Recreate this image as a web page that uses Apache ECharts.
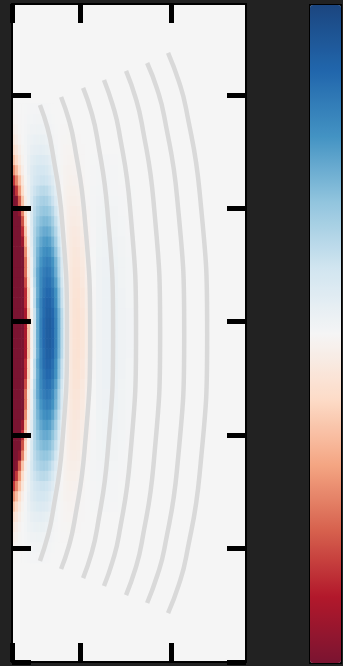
<!DOCTYPE html>
<html>
<head>
<meta charset="utf-8">
<script src="https://cdn.jsdelivr.net/npm/echarts@6/dist/echarts.min.js"></script>
<style>
  html, body { margin: 0; padding: 0; background: #222222; }
  #chart { width: 343px; height: 666px; }
</style>
</head>
<body>
<div id="chart"></div>
<script>
// Axis extents and tick positions
const xRange = [0, 10.3];
const yRange = [0, 5.8];
const xTicks = [0, 3, 7];
const yTicks = [0, 1, 2, 3, 4, 5];
const midplaneY = 2.9;

// Field grid: column edges along x, row centres as distance from the midplane
const columnEdges = [0, 0.13, 0.26, 0.4, 0.53, 0.66, 0.8, 0.93, 1.06, 1.2, 1.33, 1.46, 1.6, 1.73, 1.86,
  2.0, 2.13, 2.26, 2.4, 2.53, 2.66, 2.84, 3.0, 3.2, 3.44, 3.7, 3.96, 4.3, 4.66, 5.0, 5.4];
const rowOffsets = [0, 0.09, 0.18, 0.27, 0.36, 0.45, 0.54, 0.63, 0.72, 0.81, 0.9, 0.99,
  1.08, 1.17, 1.26, 1.35, 1.44, 1.53, 1.62, 1.71, 1.8, 1.89, 1.98];

// Field values per row, from the midplane outwards (same above and below)
const band00 = [-1, -1, -1, -1, -0.83, -0.31, -0.03, 0.23, 0.51, 0.68, 0.785, 0.845, 0.855, 0.81, 0.675, 0.485, 0.275, 0.095, -0.02, -0.1, -0.14, -0.15, -0.125, -0.07, -0.01, 0.033, 0.052, 0.056, 0.036, 0.02];
const band01 = [-1, -1, -1, -1, -0.83, -0.31, -0.03, 0.23, 0.51, 0.68, 0.785, 0.845, 0.855, 0.81, 0.675, 0.485, 0.275, 0.095, -0.02, -0.1, -0.14, -0.15, -0.125, -0.07, -0.01, 0.033, 0.052, 0.056, 0.036, 0.02];
const band02 = [-1, -1, -1, -1, -0.83, -0.31, -0.03, 0.225, 0.5, 0.665, 0.77, 0.83, 0.84, 0.795, 0.66, 0.475, 0.27, 0.093, -0.02, -0.098, -0.137, -0.147, -0.122, -0.069, -0.01, 0.032, 0.051, 0.055, 0.035, 0.02];
const band03 = [-1, -1, -1, -1, -0.75, -0.25, 0, 0.27, 0.53, 0.67, 0.77, 0.816, 0.816, 0.758, 0.624, 0.432, 0.23, 0.067, -0.038, -0.1, -0.137, -0.142, -0.115, -0.062, -0.005, 0.036, 0.051, 0.054, 0.034, 0.018];
const band04 = [-1, -1, -1, -1, -0.75, -0.25, 0, 0.26, 0.51, 0.65, 0.744, 0.79, 0.79, 0.735, 0.605, 0.42, 0.223, 0.065, -0.037, -0.098, -0.133, -0.138, -0.112, -0.06, -0.005, 0.034, 0.049, 0.052, 0.033, 0.018];
const band05 = [-1, -1, -1, -1, -0.66, -0.2, 0.036, 0.294, 0.516, 0.64, 0.72, 0.76, 0.752, 0.685, 0.552, 0.37, 0.187, 0.045, -0.047, -0.1, -0.129, -0.129, -0.102, -0.052, 0, 0.036, 0.048, 0.049, 0.03, 0.016];
const band06 = [-1, -1, -1, -1, -0.56, -0.14, 0.068, 0.323, 0.519, 0.629, 0.697, 0.731, 0.714, 0.638, 0.5, 0.323, 0.153, 0.026, -0.055, -0.102, -0.125, -0.121, -0.094, -0.045, 0.003, 0.035, 0.047, 0.046, 0.028, 0.014];
const band07 = [-1, -1, -1, -1, -0.56, -0.14, 0.064, 0.304, 0.488, 0.592, 0.656, 0.688, 0.672, 0.6, 0.472, 0.304, 0.144, 0.024, -0.052, -0.096, -0.118, -0.114, -0.088, -0.042, 0.002, 0.033, 0.044, 0.043, 0.026, 0.014];
const band08 = [-1, -1, -1, -1, -0.47, -0.1, 0.096, 0.315, 0.47, 0.559, 0.614, 0.636, 0.614, 0.537, 0.411, 0.255, 0.111, 0.011, -0.058, -0.093, -0.111, -0.104, -0.078, -0.034, 0.005, 0.031, 0.041, 0.038, 0.024, 0.012];
const band09 = [-1, -1, -1, -0.874, -0.36, -0.057, 0.12, 0.315, 0.442, 0.516, 0.563, 0.576, 0.549, 0.469, 0.348, 0.208, 0.08, 0, -0.06, -0.087, -0.1, -0.092, -0.067, -0.027, 0.007, 0.029, 0.038, 0.034, 0.021, 0.01];
const band10 = [-1, -1, -1, -0.747, -0.279, -0.027, 0.138, 0.306, 0.408, 0.471, 0.507, 0.513, 0.486, 0.405, 0.291, 0.165, 0.057, -0.012, -0.059, -0.081, -0.09, -0.081, -0.057, -0.021, 0.008, 0.026, 0.035, 0.03, 0.018, 0.008];
const band11 = [-1, -1, -1, -0.64, -0.21, 0, 0.148, 0.29, 0.371, 0.424, 0.45, 0.45, 0.419, 0.345, 0.239, 0.127, 0.037, -0.021, -0.056, -0.074, -0.08, -0.07, -0.048, -0.016, 0.009, 0.024, 0.031, 0.025, 0.015, 0.007];
const band12 = [-1, -1, -0.915, -0.495, -0.15, 0.018, 0.152, 0.267, 0.331, 0.373, 0.393, 0.389, 0.354, 0.285, 0.191, 0.097, 0.023, -0.024, -0.052, -0.066, -0.069, -0.06, -0.039, -0.012, 0.009, 0.021, 0.028, 0.021, 0.013, 0.006];
const band13 = [-1, -0.96, -0.612, -0.282, -0.06, 0.051, 0.166, 0.248, 0.294, 0.324, 0.335, 0.324, 0.283, 0.216, 0.135, 0.059, 0.006, -0.03, -0.049, -0.057, -0.057, -0.047, -0.027, -0.006, 0.011, 0.019, 0.023, 0.017, 0.01, 0.004];
const band14 = [-1, -0.72, -0.44, -0.18, -0.03, 0.058, 0.15, 0.211, 0.246, 0.269, 0.275, 0.262, 0.224, 0.166, 0.099, 0.038, 0, -0.029, -0.042, -0.048, -0.046, -0.037, -0.021, -0.003, 0.01, 0.016, 0.019, 0.013, 0.008, 0.003];
const band15 = [-0.72, -0.504, -0.3, -0.112, -0.011, 0.058, 0.128, 0.17, 0.196, 0.211, 0.214, 0.203, 0.169, 0.121, 0.069, 0.024, -0.005, -0.025, -0.034, -0.038, -0.035, -0.028, -0.015, -0.001, 0.008, 0.012, 0.015, 0.01, 0.006, 0.002];
const band16 = [-0.468, -0.317, -0.172, -0.052, 0.008, 0.069, 0.122, 0.151, 0.17, 0.18, 0.177, 0.162, 0.13, 0.087, 0.044, 0.011, -0.011, -0.024, -0.03, -0.032, -0.028, -0.021, -0.01, 0.001, 0.007, 0.01, 0.012, 0.009, 0.005, 0.002];
const band17 = [-0.289, -0.19, -0.095, -0.024, 0.013, 0.061, 0.098, 0.118, 0.131, 0.138, 0.134, 0.12, 0.094, 0.061, 0.029, 0.005, -0.01, -0.019, -0.023, -0.024, -0.021, -0.015, -0.006, 0.001, 0.005, 0.007, 0.009, 0.007, 0.004, 0.001];
const band18 = [-0.176, -0.112, -0.052, -0.011, 0.014, 0.047, 0.07, 0.083, 0.091, 0.095, 0.091, 0.08, 0.061, 0.038, 0.017, 0.002, -0.009, -0.014, -0.016, -0.016, -0.014, -0.01, -0.004];
const band19 = [-0.098, -0.058, -0.022, -0.002, 0.017, 0.038, 0.051, 0.059, 0.063, 0.064, 0.061, 0.051, 0.036, 0.021, 0.007, -0.002, -0.007, -0.01, -0.011, -0.011, -0.009, -0.006];
const band20 = [-0.052, -0.03, -0.01, 0, 0.013, 0.025, 0.032, 0.036, 0.038, 0.038, 0.036, 0.029, 0.02, 0.011, 0.003, -0.002, -0.005, -0.006, -0.007, -0.007];
const band21 = [-0.024, -0.013, -0.004, 0, 0.008, 0.015, 0.018, 0.02, 0.021, 0.021, 0.02, 0.016, 0.011, 0.006, 0.002];
const band22 = [-0.011, -0.006, -0.002, 0, 0.004, 0.007, 0.009, 0.01, 0.01, 0.01, 0.009, 0.007, 0.005, 0.002];
const fieldRows = [band00, band01, band02, band03, band04, band05, band06, band07, band08, band09, band10, band11,
  band12, band13, band14, band15, band16, band17, band18, band19, band20, band21, band22];

// Flux surfaces, listed top to bottom
const surface1 = [[1.23, 4.91], [1.56, 4.71], [1.78, 4.50], [2.20, 3.90], [2.42, 2.90], [2.20, 1.90], [1.78, 1.30], [1.56, 1.10], [1.23, 0.89]];
const surface2 = [[2.16, 4.98], [2.50, 4.78], [2.74, 4.57], [3.19, 3.94], [3.44, 2.90], [3.19, 1.86], [2.74, 1.23], [2.50, 1.02], [2.16, 0.82]];
const surface3 = [[3.13, 5.06], [3.49, 4.85], [3.74, 4.63], [4.20, 3.98], [4.45, 2.90], [4.20, 1.82], [3.74, 1.17], [3.49, 0.95], [3.13, 0.74]];
const surface4 = [[4.05, 5.13], [4.43, 4.91], [4.70, 4.69], [5.19, 4.02], [5.46, 2.90], [5.19, 1.78], [4.70, 1.11], [4.43, 0.89], [4.05, 0.67]];
const surface5 = [[5.02, 5.21], [5.43, 4.98], [5.71, 4.75], [6.23, 4.06], [6.52, 2.90], [6.23, 1.74], [5.71, 1.05], [5.43, 0.82], [5.02, 0.59]];
const surface6 = [[5.95, 5.28], [6.39, 5.05], [6.70, 4.81], [7.27, 4.09], [7.58, 2.90], [7.27, 1.71], [6.70, 0.99], [6.39, 0.76], [5.95, 0.52]];
const surface7 = [[6.87, 5.37], [7.34, 5.12], [7.66, 4.88], [8.26, 4.14], [8.59, 2.90], [8.26, 1.66], [7.66, 0.92], [7.34, 0.68], [6.87, 0.43]];
const surfaces = [surface1, surface2, surface3, surface4, surface5, surface6, surface7];

// Diverging palette, from the minimum (red) to the maximum (blue)
const palette = ['#7a1431', '#b2182b', '#d6604d', '#f4a582', '#fddbc7', '#f5f5f5',
  '#d1e5f0', '#92c5de', '#4393c3', '#2166ac', '#1b4680'];

// Build cell rectangles [x0, x1, y0, y1, value], mirrored about the midplane
const cells = [];
rowOffsets.forEach((off, r) => {
  const last = rowOffsets.length - 1;
  const lo = r === 0 ? 0 : (rowOffsets[r - 1] + off) / 2;
  const hi = r === last ? off + (off - rowOffsets[r - 1]) / 2 : (off + rowOffsets[r + 1]) / 2;
  fieldRows[r].forEach((v, c) => {
    const x0 = columnEdges[c], x1 = columnEdges[c + 1];
    if (r === 0) {
      cells.push([x0, x1, midplaneY - hi, midplaneY + hi, v]);
    } else {
      cells.push([x0, x1, midplaneY + lo, midplaneY + hi, v]);
      cells.push([x0, x1, midplaneY - hi, midplaneY - lo, v]);
    }
  });
});

function renderCell(params, api) {
  const p0 = api.coord([api.value(0), api.value(3)]);
  const p1 = api.coord([api.value(1), api.value(2)]);
  return {
    type: 'rect',
    shape: { x: p0[0], y: p0[1], width: p1[0] - p0[0] + 0.6, height: p1[1] - p0[1] + 0.6 },
    style: { fill: api.visual('color') }
  };
}

const axisLine = { show: true, onZero: false, lineStyle: { color: '#000000', width: 2 } };
const tickStyle = { color: '#000000', width: 5 };

function xAxisDef(position) {
  return {
    type: 'value', position, min: xRange[0], max: xRange[1], z: 10,
    axisLine,
    axisTick: { show: true, inside: true, length: 19, lineStyle: tickStyle, customValues: xTicks },
    axisLabel: { show: false },
    splitLine: { show: false }
  };
}
function yAxisDef(position) {
  return {
    type: 'value', position, min: yRange[0], max: yRange[1], z: 10,
    axisLine,
    axisTick: { show: true, inside: true, length: 19, lineStyle: tickStyle, customValues: yTicks },
    axisLabel: { show: false },
    splitLine: { show: false }
  };
}

const chart = echarts.init(document.getElementById('chart'), null, { renderer: 'canvas' });
chart.setOption({
  backgroundColor: '#222222',
  animation: false,
  grid: { left: 12, top: 4, width: 234, height: 658, show: true, backgroundColor: '#f5f5f5', borderWidth: 0 },
  xAxis: [xAxisDef('bottom'), xAxisDef('top')],
  yAxis: [yAxisDef('left'), yAxisDef('right')],
  visualMap: {
    type: 'continuous', min: -1, max: 1, dimension: 4, seriesIndex: 0,
    left: 309, top: 4, itemWidth: 31, itemHeight: 658, padding: 0,
    text: null, calculable: false, hoverLink: false,
    borderColor: '#000000', borderWidth: 2,
    inRange: { color: palette }
  },
  series: [
    {
      type: 'custom', renderItem: renderCell, data: cells,
      xAxisIndex: 0, yAxisIndex: 0, silent: true, z: 1,
      encode: { x: [0, 1], y: [2, 3] }
    },
    ...surfaces.map(pts => ({
      type: 'line', data: pts, xAxisIndex: 0, yAxisIndex: 0,
      smooth: 0.5, symbol: 'none', silent: true, z: 3,
      lineStyle: { color: '#d9d9d9', width: 4.5 }
    }))
  ]
});
</script>
</body>
</html>
